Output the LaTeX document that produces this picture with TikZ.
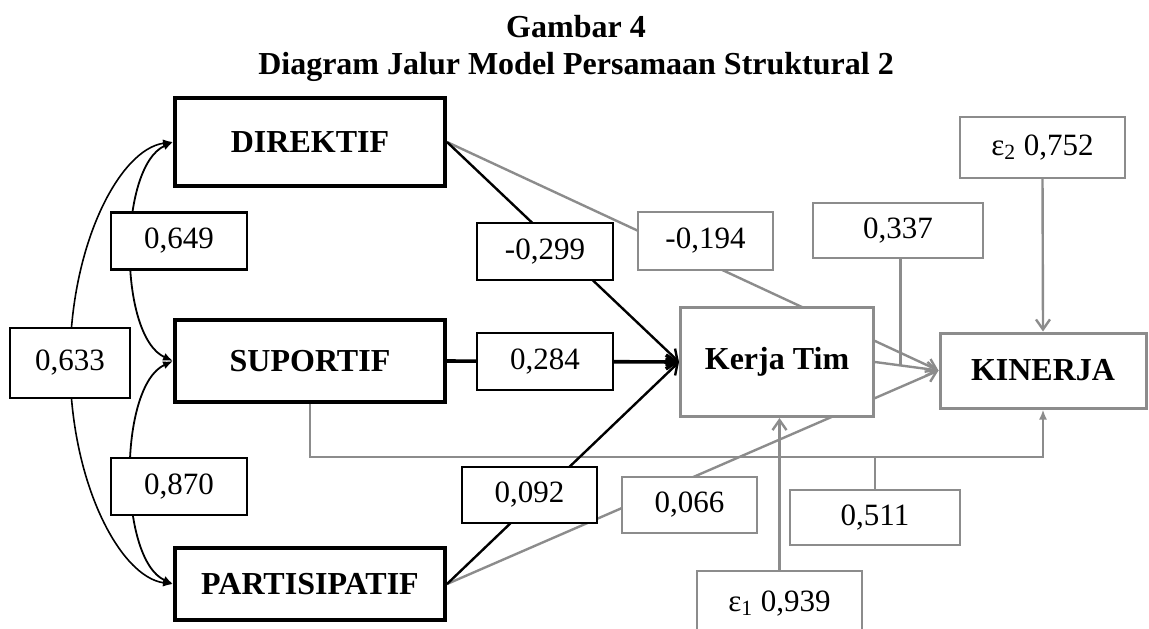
\documentclass[tikz,border=0pt]{standalone}
\usepackage{fontspec}
\setmainfont{Liberation Serif}
\usetikzlibrary{arrows.meta,backgrounds}
\definecolor{gr}{RGB}{140,140,140}
\begin{document}
\begin{tikzpicture}[x=0.5pt,y=-0.5pt,
  var/.style={draw,line width=2pt,fill=white,inner sep=0pt,font=\fontsize{16}{19}\selectfont\bfseries},
  gvar/.style={draw=gr,line width=1.5pt,fill=white,inner sep=0pt,font=\fontsize{16}{19}\selectfont\bfseries},
  lab/.style={draw,line width=1.1pt,fill=white,inner sep=0pt,font=\fontsize{15.5}{18}\selectfont},
  glab/.style={lab,draw=gr},
  ttl/.style={font=\fontsize{16}{19}\selectfont\bfseries,inner sep=0pt,anchor=base},
  blk/.style={draw=black,line width=1.2pt,-{Straight Barb[length=5pt,width=7pt]}},
  gline/.style={draw=gr,line width=1.2pt},
  garr/.style={gline,-{Straight Barb[length=5pt,width=7pt]}},
  corr/.style={draw=black,line width=0.9pt,{Latex[length=5pt,width=4pt]}-{Latex[length=5pt,width=4pt]}}]
\useasboundingbox (0,0) rectangle (1149,628);

\node[ttl] (t1) at (576,37) {Gambar 4};
\node[ttl] (t2) at (576,74) {Diagram Jalur Model Persamaan Struktural 2};

\node[var,minimum width=135pt,minimum height=44pt] (D) at (310,142) {DIREKTIF};
\node[var,minimum width=135pt,minimum height=41pt] (S) at (310,361) {SUPORTIF};
\node[var,minimum width=135pt,minimum height=36pt] (P) at (310,584) {PARTISIPATIF};
\node[gvar,minimum width=96.5pt,minimum height=54.5pt] (KT) at (777,362) {Kerja Tim};
\node[gvar,minimum width=103pt,minimum height=37.5pt] (K) at (1043,370.5) {KINERJA};
\coordinate (bus) at (0,457);

\begin{pgfonlayer}{background}
  \draw[garr] (D.east) -- (K.west);
  \draw[garr] (P.east) -- (K.west);
  \draw[garr] (KT.east) -- coordinate[pos=0.4] (m1) (K.west);
  \draw[gline,-{Latex[length=5pt,width=4pt]}] (S.south) |- (K.south |- bus) -- (K.south);
  \draw[blk] (D.east) -- (KT.west);
  \draw[blk,line width=1.8pt] (S.east) -- (KT.west);
  \draw[blk] (P.east) -- (KT.west);
  \draw[corr] (D.west) .. controls +(-55,25) and +(-55,-25) .. (S.west);
  \draw[corr] (S.west) .. controls +(-55,25) and +(-55,-25) .. (P.west);
  \draw[corr,line width=0.8pt] (D.west) .. controls (120,149) and (70,244) .. (70,363) .. controls (70,482) and (120,577) .. (P.west);
\end{pgfonlayer}

\node[lab,minimum width=68pt,minimum height=28.5pt] (c1) at (179,241) {0,649};
\node[lab,minimum width=68pt,minimum height=28.5pt] (c3) at (179,486.5) {0,870};
\node[lab,minimum width=60pt,minimum height=35pt] (c2) at (70,363) {0,633};
\node[lab,minimum width=68pt,minimum height=28.5pt] (l1) at (545,251.5) {-0,299};
\node[glab,minimum width=67.5pt,minimum height=29pt] (l2) at (705.5,241) {-0,194};
\node[lab,minimum width=68pt,minimum height=28.5pt] (l3) at (545,361.5) {0,284};
\node[lab,minimum width=67.5pt,minimum height=28pt] (l4) at (529.5,495) {0,092};
\node[glab,minimum width=67.5pt,minimum height=28pt] (l5) at (689.5,505) {0,066};
\node[glab,minimum width=85pt,minimum height=27.5pt] (l6) at (898,230.5) {0,337};
\node[glab,minimum width=85pt,minimum height=27.5pt] (l7) at (875,517.5) {0,511};
\node[glab,minimum width=82.5pt,minimum height=30.5pt] (e2) at (1042.5,147.5) {ε\textsubscript{2} 0,752};
\node[glab,minimum width=82.5pt,minimum height=32pt,anchor=north] (e1) at (779.5,570) {ε\textsubscript{1} 0,939};

\draw[gline] (m1 |- l6.south) -- (m1);
\draw[gline] (l7.north) -- (l7.north |- bus);
\draw[garr] (e1.north) -- (e1.north |- KT.south);
\draw[garr] (e2.south) -- (K.north);
\end{tikzpicture}
\end{document}
